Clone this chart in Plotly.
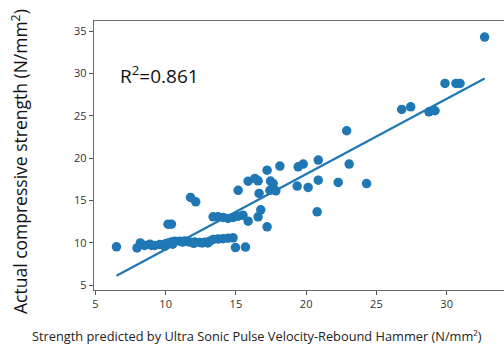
import numpy as np
import plotly.graph_objects as go

# Predicted strength (UPV + rebound hammer) vs measured compressive strength, N/mm^2
predicted = [
    6.5, 7.96, 8.2, 8.5, 8.87, 9.22, 9.58, 9.94, 10.17, 10.41, 10.65, 11.0, 11.36,
    11.7, 12.07, 12.43, 12.78, 13.14, 13.38, 13.73, 14.09, 14.44, 14.8, 14.97, 15.68,
    10.0, 10.5, 12.0, 13.0, 9.0, 11.2, 12.6,
    10.17, 10.41, 11.77, 12.14, 13.38, 13.73, 14.09, 14.44, 14.8, 15.16, 15.5, 15.87,
    15.16, 15.87, 16.35, 16.58, 16.65, 16.58, 16.77, 17.22, 17.22, 17.46, 17.65,
    17.42, 17.84, 18.13,
    19.43, 19.79, 20.86, 23.06, 19.36, 20.14, 20.86, 22.28, 24.3, 20.78,
    22.88, 26.8, 27.44, 28.74, 29.17, 29.88, 30.66, 30.95, 32.7,
]
actual = [
    9.53, 9.4, 10.0, 9.7, 9.84, 9.7, 9.8, 9.6, 10.0, 10.1, 10.2, 10.2, 10.23,
    10.1, 10.1, 10.05, 10.07, 10.2, 10.4, 10.47, 10.5, 10.55, 10.6, 9.45, 9.5,
    9.9, 9.85, 9.95, 10.0, 9.7, 10.1, 10.0,
    12.2, 12.2, 15.36, 14.85, 13.07, 13.07, 13.0, 12.88, 13.0, 13.15, 13.27, 12.56,
    16.2, 17.28, 17.6, 17.32, 15.83, 13.07, 13.9, 11.9, 18.58, 17.3, 17.0,
    16.2, 16.14, 19.06,
    18.97, 19.3, 19.77, 19.3, 16.7, 16.54, 17.4, 17.13, 17.0, 13.66,
    23.23, 25.75, 26.06, 25.47, 25.59, 28.82, 28.82, 28.82, 34.29,
]

# Linear fit drawn over the data
fit_slope = 0.888
fit_intercept = 0.36
r_squared = 0.861

x_ticks = [5, 10, 15, 20, 25, 30]
y_ticks = [5, 10, 15, 20, 25, 30, 35]

blue = "#1f77b4"
font_family = "Open Sans, Noto Sans, sans-serif"

fit_x = np.array([min(predicted), max(predicted)])
fit_y = fit_slope * fit_x + fit_intercept

fig = go.Figure()
fig.add_trace(go.Scatter(
    x=fit_x, y=fit_y, mode="lines",
    line=dict(color=blue, width=2.2), hoverinfo="skip", showlegend=False,
))
fig.add_trace(go.Scatter(
    x=predicted, y=actual, mode="markers",
    marker=dict(color=blue, size=9.5, line=dict(width=0)), showlegend=False,
))

axis_common = dict(
    showgrid=False, zeroline=False, showline=True, linecolor="#6b6b6b", linewidth=1.3,
    ticks="outside", ticklen=4, tickwidth=1, tickcolor="#555",
    tickfont=dict(family=font_family, size=11, color="#333"),
)
fig.update_xaxes(range=[4.9, 34.08], tickvals=x_ticks, mirror=True, **axis_common)
fig.update_yaxes(range=[4.44, 36.18], tickvals=y_ticks, **axis_common)

# plot area spans x 94..504 px and y 21..290 px
fig.add_annotation(
    x=6.59, y=29.8, xref="x", yref="y", xanchor="left", yanchor="middle",
    text=f"R<sup>2</sup>={r_squared}", showarrow=False,
    font=dict(family=font_family, size=19, color="#111"),
)
fig.add_annotation(
    x=(257 - 94) / 410, y=-46 / 269, xref="paper", yref="paper",
    xanchor="center", yanchor="middle",
    text="Strength predicted by Ultra Sonic Pulse Velocity-Rebound Hammer (N/mm²)",
    showarrow=False, font=dict(family=font_family, size=12.8, color="#222"),
)
fig.add_annotation(
    x=(20 - 94) / 410, y=0.476, xref="paper", yref="paper", textangle=-90,
    xanchor="center", yanchor="middle",
    text="Actual compressive strength (N/mm<sup>2</sup>)",
    showarrow=False, font=dict(family=font_family, size=17.5, color="#111"),
)

fig.update_layout(
    width=504, height=349,
    margin=dict(l=94, r=0, t=21, b=59),
    paper_bgcolor="white", plot_bgcolor="white",
)

fig.write_html("out.html")
